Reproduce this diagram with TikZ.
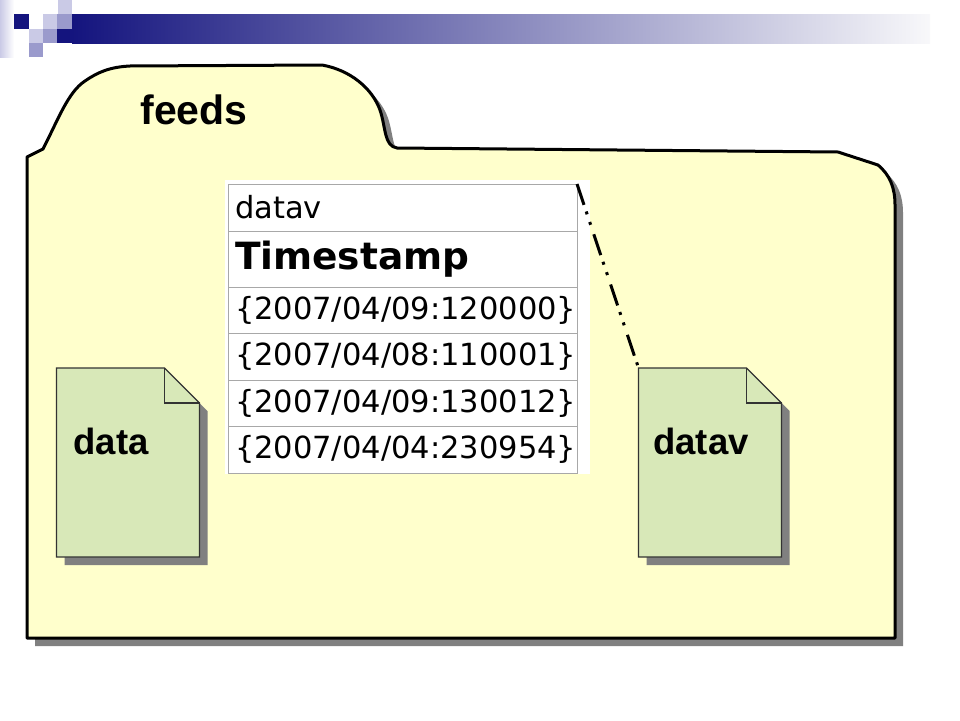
\documentclass[tikz,border=0pt]{standalone}
\usepackage{fontspec}
\setmainfont{Liberation Sans}
\newfontfamily\tabfont{DejaVu Sans}
\usetikzlibrary{positioning}
\definecolor{navy}{HTML}{14147E}
\definecolor{lavlight}{HTML}{CACAE6}
\definecolor{lavmid}{HTML}{9A9ACC}
\definecolor{barmid}{HTML}{A2A2BA}
\definecolor{barend}{HTML}{F8F8FA}
\definecolor{folderyellow}{HTML}{FFFFCC}
\definecolor{docgreen}{HTML}{D8E8B8}
\definecolor{shadowgray}{HTML}{808080}
\definecolor{gridgray}{HTML}{A8A8A8}
\tikzset{
  docbody/.style={minimum width=143pt, minimum height=189pt, inner sep=0pt, outer sep=0pt},
  doclabel/.style={font=\fontsize{36.5}{40}\selectfont\bfseries},
  tabcell/.style={draw=gridgray, line width=1pt, fill=white, minimum width=349pt,
    inner xsep=7pt, inner ysep=0pt, outer sep=0pt, text width=335pt, align=left,
    font=\tabfont\fontsize{30.5}{34}\selectfont},
  dashdot/.style={line width=3pt, dash pattern=on 22pt off 7pt on 3pt off 8pt on 3pt off 10pt},
}
\newcommand\folderpath{(27,638) -- (27,157) -- (43,149)
  .. controls (58,120) and (68,92) .. (85,81)
  .. controls (98,72) and (110,67) .. (130,66) -- (322,65)
  .. controls (350,70) and (372,88) .. (380,110)
  .. controls (386,128) and (384,146) .. (397,148) -- (838,152) -- (878,165)
  .. controls (890,175) and (895,188) .. (895,205) -- (895,638) -- cycle}
\begin{document}
\begin{tikzpicture}[x=1pt,y=-1pt]
\useasboundingbox (0,0) rectangle (960,720);
% header squares and bar
\shade[left color=lavlight, right color=white] (0,0) rectangle (14,57);
\fill[lavlight] (58,0) rectangle (72,14);
\fill[navy] (14,14) rectangle (29,29);
\fill[lavlight] (43,14) rectangle (57,29);
\fill[lavmid] (57,14) rectangle (72,29);
\fill[lavlight] (29,29) rectangle (43,43);
\fill[lavmid] (43,29) rectangle (57,43);
\fill[navy] (57,29) rectangle (72,43);
\fill[lavmid] (29,43) rectangle (43,57);
\shade[left color=navy, middle color=barmid, right color=barend] (72,14) rectangle (930,43);

% folder
\fill[shadowgray, shift={(8,8)}] \folderpath;
\draw[line width=3pt, fill=folderyellow, line join=round] \folderpath;
\node[font=\fontsize{41}{45}\selectfont\bfseries] (feeds) at (194,110) {feeds};

% table
\fill[white] (225,180) rectangle (590,474);
\node[tabcell, anchor=north west, minimum height=47pt] (tab1) at (228,184) {datav};
\node[tabcell, minimum height=56pt, below=0pt of tab1, font=\tabfont\fontsize{37.5}{40}\selectfont\bfseries] (tab2) {Timestamp};
\foreach \ts [count=\i from 3] in {2007/04/09:120000,2007/04/08:110001,2007/04/09:130012,2007/04/04:230954} {
    \pgfmathtruncatemacro\prev{\i-1}
    \node[tabcell, minimum height=46.5pt, below=0pt of tab\prev] (tab\i) {\{\ts\}};
}

% documents
\node[docbody] (datadoc) at (128,462.5) {};
\node[docbody] (datavdoc) at (710,462.5) {};
\draw[dashdot] (tab1.north east) -- (datavdoc.north west);
\foreach \d in {datadoc,datavdoc} {
    \fill[shadowgray] ([shift={(8,8)}]\d.north west) -- ([shift={(-27,8)}]\d.north east)
        -- ([shift={(8,43)}]\d.north east) -- ([shift={(8,8)}]\d.south east)
        -- ([shift={(8,8)}]\d.south west) -- cycle;
    \draw[fill=docgreen, draw=black!80, line width=1.3pt] (\d.north west) -- ([xshift=-35pt]\d.north east)
        -- ([yshift=-35pt]\d.north east) -- (\d.south east) -- (\d.south west) -- cycle;
    \draw[black!80, line width=1.3pt] ([xshift=-35pt]\d.north east) -- ([xshift=-35pt,yshift=-35pt]\d.north east)
        -- ([yshift=-35pt]\d.north east);
}
\node[doclabel] (datalabel) at (111,441) {data};
\node[doclabel] (datavlabel) at (701,441) {datav};
\end{tikzpicture}
\end{document}
